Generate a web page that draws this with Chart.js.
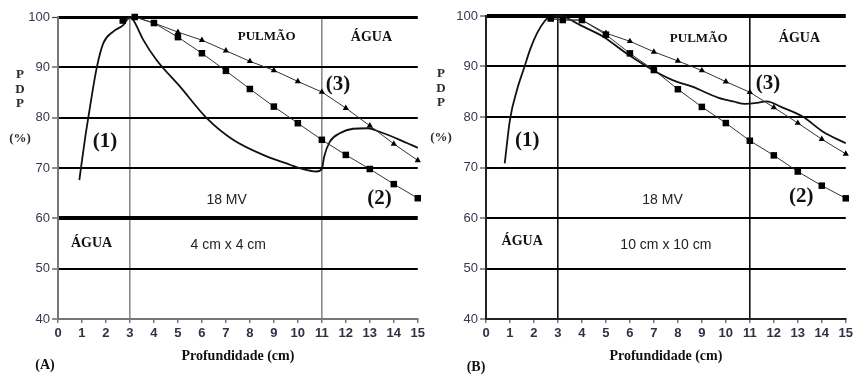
<!DOCTYPE html>
<html><head><meta charset="utf-8">
<script src="https://cdn.jsdelivr.net/npm/chart.js@4"></script>
<style>
body{margin:0;background:#fff;width:856px;height:377px;overflow:hidden;position:relative}
.p{position:absolute;top:0;width:428px;height:377px}
</style></head><body>
<div class="p" style="left:0"><canvas id="cA" width="428" height="377"></canvas></div>
<div class="p" style="left:428px"><canvas id="cB" width="428" height="377"></canvas></div>
<script>
// ---- Data (PDP %, depth cm) ----
const xTicks = [0,1,2,3,4,5,6,7,8,9,10,11,12,13,14,15];
const yTicks = [40,50,60,70,80,90,100];

// Panel A (4 cm x 4 cm)
const depthA1 = [0.89,1.12,1.26,1.61,1.89,2.3,2.72,3.0,3.14,3.55,4.1,5.08,6.2,7.3,8.7,9.7,10.08,10.78,11.0,11.1,11.33,11.75,12.3,12.92,13.4,14.25,15.0];
const pdpA1   = [67.6,75.6,79.9,89.8,94.8,97.1,98.4,100,99.4,95.5,91.5,86.2,79.9,75.6,72.3,70.6,69.95,69.3,69.8,72.3,75.2,76.9,77.8,77.9,77.2,75.6,74.0];
const depthA2 = [2.7,3.2,4,5,6,7,8,9,10,11,12,13,14,15];
const pdpA2   = [99.3,100,98.8,96.0,92.8,89.3,85.7,82.2,78.9,75.6,72.6,69.8,66.8,64.0];
const depthA3 = [2.7,3.2,4,5,6,7,8,9,10,11,12,13,14,15];
const pdpA3   = [99.3,100,98.8,97.0,95.4,93.3,91.2,89.4,87.2,85.1,81.9,78.4,74.8,71.5];

// Panel B (10 cm x 10 cm)
const depthB1 = [0.78,1.0,1.3,1.58,1.85,2.13,2.45,2.7,3.2,3.5,3.93,4.89,5.85,6.95,7.78,8.6,9.7,10.3,10.8,11.3,11.7,12.3,13.2,14.05,15];
const pdpB1   = [70.8,79.5,85.5,89.6,93.5,96.6,99.0,100,100,99.3,98.2,95.9,92.6,89.3,87.3,86.0,83.8,83.1,82.6,82.8,83.1,82.0,80.1,77.1,74.8];
const depthB2 = [2.7,3.2,4,5,6,7,8,9,10,11,12,13,14,15];
const pdpB2   = [99.5,99.2,99.2,96.3,92.6,89.3,85.5,82.0,78.8,75.3,72.4,69.2,66.4,63.9];
const depthB3 = [2.7,3.2,4,5,6,7,8,9,10,11,12,13,14,15];
const pdpB3   = [99.5,99.2,99.2,96.6,95.0,92.9,91.1,89.2,87.0,84.9,81.9,78.8,75.6,72.7];

const labelsA = ['PULMÃO','ÁGUA','(3)','(1)','(2)','18 MV','ÁGUA','4 cm x 4 cm'];
const labelsB = ['PULMÃO','ÁGUA','(3)','(1)','(2)','18 MV','ÁGUA','10 cm x 10 cm'];
const xTitle = 'Profundidade (cm)';
const yTitle = ['P','D','P','(%)'];

// ---- helpers ----
const pts = (xs, ys) => xs.map((x,i)=>({x, y: ys[i]}));
const SERIF = '"Liberation Serif","Times New Roman",serif';
const SANS = '"Liberation Sans",Arial,sans-serif';

// annotation placement in data units: [x, y, font]
const annotPosA = [[8.7,96.1,'b13s'],[13.07,96.0,'b14s'],[11.67,86.5,'b21s'],[1.96,75.2,'b21s'],[13.4,64.0,'b21s'],[7.03,63.7,'n14a'],[1.4,55.0,'b14s'],[7.1,54.7,'n14a']];
const annotPosB = [[8.87,95.6,'b13s'],[13.07,95.6,'b14s'],[11.76,86.7,'b21s'],[1.72,75.4,'b21s'],[13.14,64.2,'b21s'],[7.36,63.6,'n14a'],[1.51,55.3,'b14s'],[7.5,54.7,'n14a']];

function fontOf(code){
  const bold = code[0]==='b';
  const size = parseInt(code.slice(1));
  const fam = code.endsWith('s') ? SERIF : SANS;
  return (bold?'bold ':'') + size + 'px ' + fam;
}

function makeTextPlugin(labels, pos, tag, pdpX, tagX, tagY){
  return {
    id: 'txt'+tag,
    afterDraw(chart){
      const c = chart.ctx, xs = chart.scales.x, ys = chart.scales.y, a = chart.chartArea;
      c.save();
      c.textAlign='center'; c.textBaseline='middle';
      labels.forEach((t,i)=>{
        const p = pos[i];
        c.font = fontOf(p[2]);
        c.fillStyle = p[2].endsWith('a') ? '#222' : '#111';
        c.fillText(t, xs.getPixelForValue(p[0]), ys.getPixelForValue(p[1]));
      });
      c.fillStyle='#111';
      c.font = 'bold 14px '+SERIF;
      c.fillText(xTitle, (a.left+a.right)/2, a.bottom+37);
      c.fillText(tag, tagX, tagY);
      c.font = 'bold 13px '+SERIF;
      c.fillStyle='#2a2a2a';
      const yy = [a.top+58, a.top+72.5, a.top+87, a.top+122];
      yTitle.forEach((t,i)=> c.fillText(t, pdpX, yy[i]));
      c.restore();
    }
  };
}

function makeChart(id, d1, d2, d3, opts){
  const thick = opts.thick;
  return new Chart(document.getElementById(id), {
    type:'line',
    data:{datasets:[
      {data:d2, borderColor:'#333', borderWidth:1, pointStyle:'rect', pointRadius:4.6, pointBackgroundColor:'#000', pointBorderColor:'#000', pointBorderWidth:0, tension:0, clip:false},
      {data:d3, borderColor:'#333', borderWidth:1, pointStyle:'triangle', pointRadius:3.6, pointBackgroundColor:'#000', pointBorderColor:'#000', pointBorderWidth:0, tension:0, clip:false},
      {data:d1, borderColor:'#111', borderWidth:1.8, pointRadius:0, cubicInterpolationMode:'monotone', clip:false}
    ]},
    options:{
      responsive:false, animation:false, devicePixelRatio:1,
      layout:{padding:{top:opts.top, right:opts.right, left:0, bottom:0}},
      plugins:{legend:{display:false}, tooltip:{enabled:false}},
      scales:{
        x:{type:'linear', min:0, max:15,
           afterBuildTicks: s=>{ s.ticks = xTicks.map(v=>({value:v})); },
           afterFit: s=>{ s.height = 58; },
           ticks:{autoSkip:false, maxRotation:0, padding:3, color:'#2d3245', font:{family:SANS, size:13, weight:'bold'}},
           grid:{color: ctx => (ctx.tick && (ctx.tick.value===3 || ctx.tick.value===11)) ? opts.vcol : 'rgba(0,0,0,0)',
                 lineWidth:1.6, tickColor:'#555', tickLength:4, tickWidth:1.2},
           border:{color:opts.axisCol, width:2}},
        y:{min:40, max:100,
           afterBuildTicks: s=>{ s.ticks = yTicks.map(v=>({value:v})); },
           afterFit: s=>{ s.width = 58; },
           ticks:{padding:2, color:'#3a3550', font:{family:SANS, size:13}},
           grid:{color: ctx => (ctx.tick && ctx.tick.value===40) ? 'rgba(0,0,0,0)' : '#000',
                 lineWidth: ctx => ctx.tick ? (thick[ctx.tick.value] || 2) : 2,
                 tickColor:'#444', tickLength:6, tickWidth:1.2},
           border:{color:opts.axisCol, width:2}}
      }
    },
    plugins:[makeTextPlugin(opts.labels, opts.pos, opts.tag, opts.pdpX, opts.tagX, opts.tagY)]
  });
}

makeChart('cA', pts(depthA1,pdpA1), pts(depthA2,pdpA2), pts(depthA3,pdpA3),
  {top:17, right:10, thick:{100:3, 60:4}, vcol:'#8a8a8a', axisCol:'#777', labels:labelsA, pos:annotPosA, tag:'(A)', pdpX:20, tagX:45, tagY:365});
makeChart('cB', pts(depthB1,pdpB1), pts(depthB2,pdpB2), pts(depthB3,pdpB3),
  {top:16, right:6, thick:{100:4}, vcol:'#111', axisCol:'#222', labels:labelsB, pos:annotPosB, tag:'(B)', pdpX:13, tagX:48, tagY:367});
</script>
</body></html>
